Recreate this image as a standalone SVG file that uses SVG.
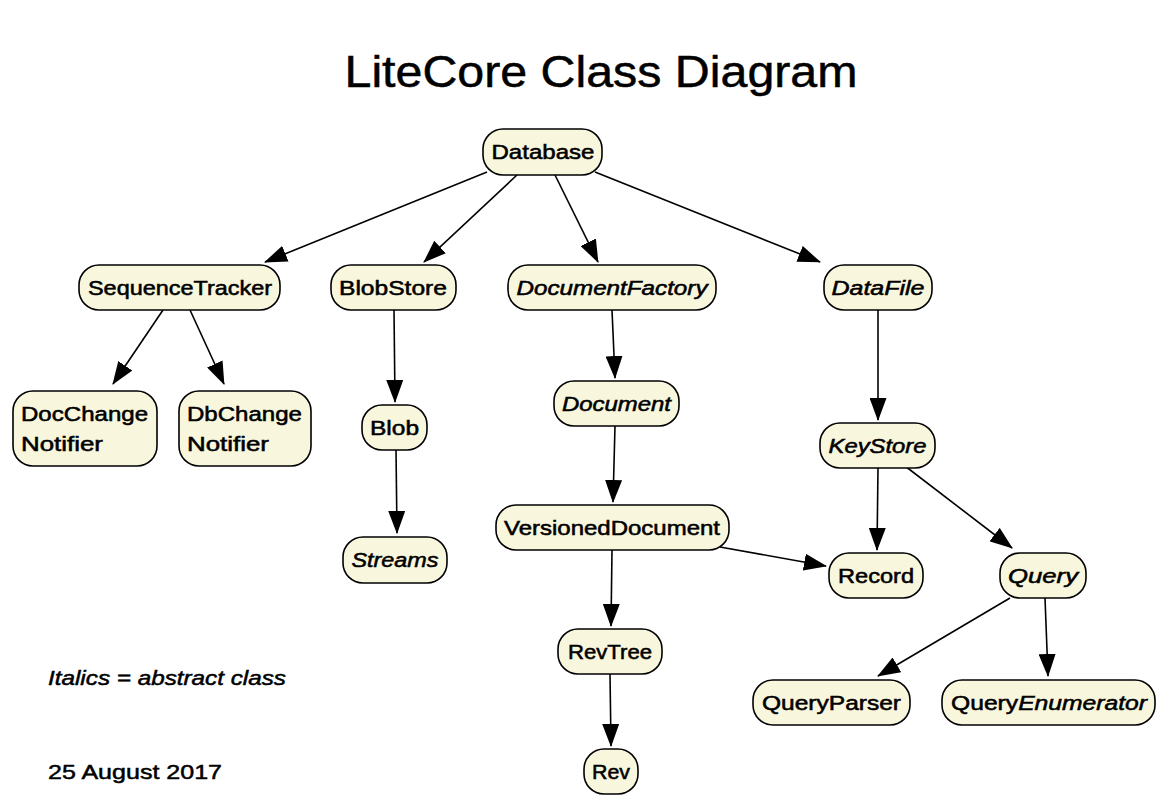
<svg xmlns="http://www.w3.org/2000/svg" width="1168" height="796" viewBox="0 0 1168 796">
<defs>
<marker id="ah" markerUnits="userSpaceOnUse" markerWidth="24" markerHeight="17" refX="22" refY="8.5" orient="auto">
<path d="M0,0 L23,8.5 L0,17 Z" fill="#000"/>
</marker>
<style>
.n rect{fill:#f8f6dc;stroke:#000;stroke-width:1.6}
.n text{font-family:"Liberation Sans","DejaVu Sans",sans-serif;font-size:21px;fill:#000;stroke:#000;stroke-width:0.55;text-anchor:middle}
.i{font-style:italic}
.e line{stroke:#000;stroke-width:1.6;marker-end:url(#ah)}
.t{font-family:"Liberation Sans","DejaVu Sans",sans-serif;fill:#000;stroke:#000;stroke-width:0.5}
</style>
</defs>
<rect width="1168" height="796" fill="#fff"/>
<text class="t" x="601" y="87" font-size="44" stroke-width="1" text-anchor="middle" textLength="513" lengthAdjust="spacingAndGlyphs">LiteCore Class Diagram</text>
<text class="t" x="48" y="685" font-size="21" font-style="italic" textLength="238" lengthAdjust="spacingAndGlyphs">Italics = abstract class</text>
<text class="t" x="48" y="779" font-size="21" textLength="174" lengthAdjust="spacingAndGlyphs">25 August 2017</text>

<g class="e" id="edges">
<line x1="487" y1="172" x2="265" y2="262"/>
<line x1="517" y1="175" x2="424" y2="262"/>
<line x1="555" y1="175" x2="598" y2="262"/>
<line x1="595" y1="172" x2="820" y2="262"/>
<line x1="163" y1="310" x2="113" y2="384"/>
<line x1="190" y1="310" x2="224" y2="384"/>
<line x1="394" y1="310" x2="395" y2="402"/>
<line x1="396" y1="450" x2="397" y2="533"/>
<line x1="612" y1="310" x2="615" y2="378"/>
<line x1="615" y1="426" x2="613" y2="502"/>
<line x1="878" y1="310" x2="878" y2="420"/>
<line x1="878" y1="468" x2="877" y2="550"/>
<line x1="905" y1="466" x2="1012" y2="548"/>
<line x1="720" y1="547" x2="826" y2="566"/>
<line x1="612" y1="550" x2="611" y2="626"/>
<line x1="1010" y1="598" x2="878" y2="676"/>
<line x1="1045" y1="598" x2="1048" y2="676"/>
<line x1="610" y1="674" x2="611" y2="746"/>
</g>

<g class="n" id="Database"><rect x="483" y="129" width="119" height="46" rx="20"/><text x="543" y="159" textLength="103" lengthAdjust="spacingAndGlyphs">Database</text></g>
<g class="n" id="SequenceTracker"><rect x="79" y="265" width="201" height="45" rx="20"/><text x="180" y="295" textLength="184" lengthAdjust="spacingAndGlyphs">SequenceTracker</text></g>
<g class="n" id="BlobStore"><rect x="331" y="265" width="125" height="45" rx="20"/><text x="393" y="295" textLength="108" lengthAdjust="spacingAndGlyphs">BlobStore</text></g>
<g class="n" id="DocumentFactory"><rect x="508" y="265" width="208" height="45" rx="20"/><text class="i" x="612" y="295" textLength="191" lengthAdjust="spacingAndGlyphs">DocumentFactory</text></g>
<g class="n" id="DataFile"><rect x="824" y="265" width="108" height="45" rx="20"/><text class="i" x="878" y="295" textLength="93" lengthAdjust="spacingAndGlyphs">DataFile</text></g>
<g class="n" id="DocChangeNotifier"><rect x="13" y="391" width="144" height="75" rx="20"/><text x="84.5" y="421" textLength="127" lengthAdjust="spacingAndGlyphs">DocChange</text><text x="62" y="451" textLength="82" lengthAdjust="spacingAndGlyphs">Notifier</text></g>
<g class="n" id="DbChangeNotifier"><rect x="179" y="391" width="132" height="75" rx="20"/><text x="244.5" y="421" textLength="115" lengthAdjust="spacingAndGlyphs">DbChange</text><text x="228" y="451" textLength="82" lengthAdjust="spacingAndGlyphs">Notifier</text></g>
<g class="n" id="Blob"><rect x="362" y="405" width="65" height="45" rx="20"/><text x="394.5" y="435" textLength="49" lengthAdjust="spacingAndGlyphs">Blob</text></g>
<g class="n" id="Document"><rect x="554" y="381" width="125" height="45" rx="20"/><text class="i" x="616.5" y="411" textLength="109" lengthAdjust="spacingAndGlyphs">Document</text></g>
<g class="n" id="KeyStore"><rect x="820" y="423" width="115" height="45" rx="20"/><text class="i" x="877.5" y="453" textLength="98" lengthAdjust="spacingAndGlyphs">KeyStore</text></g>
<g class="n" id="VersionedDocument"><rect x="496" y="505" width="233" height="45" rx="20"/><text x="612" y="535" textLength="216" lengthAdjust="spacingAndGlyphs">VersionedDocument</text></g>
<g class="n" id="Streams"><rect x="343" y="537" width="104" height="46" rx="20"/><text class="i" x="395" y="567" textLength="87" lengthAdjust="spacingAndGlyphs">Streams</text></g>
<g class="n" id="Record"><rect x="829" y="553" width="94" height="45" rx="20"/><text x="876" y="583" textLength="76" lengthAdjust="spacingAndGlyphs">Record</text></g>
<g class="n" id="Query"><rect x="1000" y="553" width="86" height="45" rx="20"/><text class="i" x="1043" y="583" textLength="70" lengthAdjust="spacingAndGlyphs">Query</text></g>
<g class="n" id="RevTree"><rect x="558" y="629" width="104" height="45" rx="20"/><text x="610" y="659" textLength="84" lengthAdjust="spacingAndGlyphs">RevTree</text></g>
<g class="n" id="QueryParser"><rect x="753" y="680" width="157" height="45" rx="20"/><text x="831.5" y="710" textLength="139" lengthAdjust="spacingAndGlyphs">QueryParser</text></g>
<g class="n" id="QueryEnumerator"><rect x="942" y="680" width="213" height="45" rx="20"/><text x="1049" y="710" textLength="196" lengthAdjust="spacingAndGlyphs">Query<tspan class="i">Enumerator</tspan></text></g>
<g class="n" id="Rev"><rect x="584" y="749" width="54" height="45" rx="20"/><text x="611" y="779" textLength="38" lengthAdjust="spacingAndGlyphs">Rev</text></g>
</svg>
